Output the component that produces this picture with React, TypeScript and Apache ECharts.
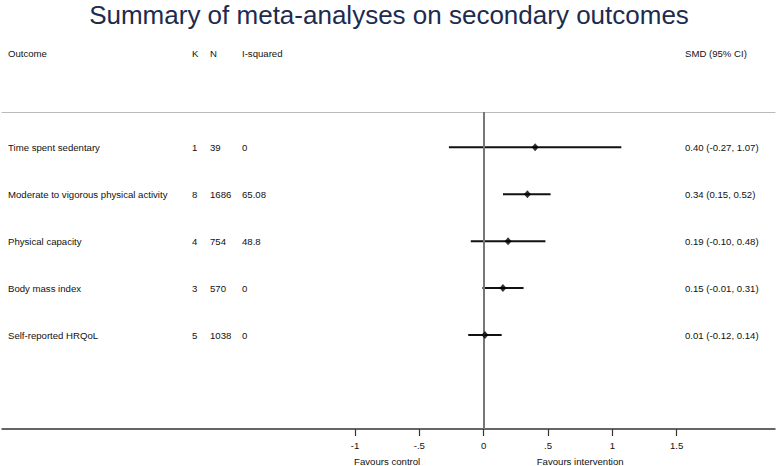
import React, { useEffect, useRef } from "react";
import * as echarts from "echarts";

const titleText = "Summary of meta-analyses on secondary outcomes";
const headers = ["Outcome", "K", "N", "I-squared", "SMD (95% CI)"];
const outcomes = [
  "Time spent sedentary",
  "Moderate to vigorous physical activity",
  "Physical capacity",
  "Body mass index",
  "Self-reported HRQoL",
];
const kValues = [1, 8, 4, 3, 5];
const nValues = [39, 1686, 754, 570, 1038];
const iSquared = [0, 65.08, 48.8, 0, 0];
const smd = [0.4, 0.34, 0.19, 0.15, 0.01];
const ciLow = [-0.27, 0.15, -0.1, -0.01, -0.12];
const ciHigh = [1.07, 0.52, 0.48, 0.31, 0.14];
const tickValues = [-1, -0.5, 0, 0.5, 1, 1.5];
const tickLabels = ["-1", "-.5", "0", ".5", "1", "1.5"];
const favourLabels = ["Favours control", "Favours intervention"];
const favourPositions = [-0.75, 0.75];

const FONT = "'Liberation Sans', Arial, Helvetica, sans-serif";
const FS = 9.6;
const colX = [8, 192, 210, 242, 685];

export default function App() {
  const ref = useRef<HTMLDivElement>(null);
  useEffect(() => {
    if (!ref.current) return;
    const chart = echarts.init(ref.current, null, { renderer: "svg" });
    const rows = outcomes.map((_, i) => i + 1);
    const fmt = (v: number) => v.toFixed(2);
    const option: any = {
      animation: false,
      backgroundColor: "#ffffff",
      grid: { left: 2, right: 3, top: 112, bottom: 37, containLabel: false },
      xAxis: [
        {
          type: "value",
          min: -3.743,
          max: 2.264,
          position: "bottom",
          axisLine: { show: true, lineStyle: { color: "#333333", width: 1.5 } },
          axisTick: {
            show: true,
            customValues: tickValues,
            length: 7,
            lineStyle: { color: "#333333", width: 1.2 },
          },
          axisLabel: {
            show: true,
            customValues: tickValues,
            margin: 11,
            fontSize: FS,
            fontFamily: FONT,
            color: "#111111",
            formatter: (v: number) => {
              const idx = tickValues.findIndex((t) => Math.abs(t - v) < 1e-9);
              return idx >= 0 ? tickLabels[idx] : "";
            },
          },
          splitLine: { show: false },
        },
        {
          type: "value",
          min: -3.743,
          max: 2.264,
          position: "top",
          axisLine: { show: true, lineStyle: { color: "#bbbbbb", width: 1.2 } },
          axisTick: { show: false },
          axisLabel: { show: false },
          splitLine: { show: false },
        },
      ],
      yAxis: {
        type: "value",
        inverse: true,
        min: 0.25,
        max: 7,
        show: false,
        splitLine: { show: false },
      },
      series: [
        {
          type: "custom",
          name: "CI",
          xAxisIndex: 0,
          data: rows.map((r, i) => [ciLow[i], ciHigh[i], r]),
          encode: { x: [0, 1], y: 2 },
          renderItem: (params: any, api: any) => {
            const p1 = api.coord([api.value(0), api.value(2)]);
            const p2 = api.coord([api.value(1), api.value(2)]);
            return {
              type: "line",
              shape: { x1: p1[0], y1: p1[1], x2: p2[0], y2: p2[1] },
              style: { stroke: "#111111", lineWidth: 2 },
            };
          },
          markLine: {
            silent: true,
            symbol: "none",
            label: { show: false },
            lineStyle: { color: "#777777", width: 2, type: "solid" },
            data: [{ xAxis: 0 }],
          },
          z: 3,
        },
        {
          type: "scatter",
          name: "SMD",
          xAxisIndex: 0,
          data: rows.map((r, i) => [smd[i], r]),
          symbol: "diamond",
          symbolSize: [7, 8],
          itemStyle: { color: "#000000" },
          z: 5,
        },
        {
          type: "custom",
          name: "table",
          xAxisIndex: 0,
          data: rows.map((r, i) => [0, r, i]),
          encode: { x: 0, y: 1 },
          renderItem: (params: any, api: any) => {
            const i = api.value(2);
            const y = api.coord([0, api.value(1)])[1];
            const texts = [
              outcomes[i],
              String(kValues[i]),
              String(nValues[i]),
              String(iSquared[i]),
              `${fmt(smd[i])} (${fmt(ciLow[i])}, ${fmt(ciHigh[i])})`,
            ];
            return {
              type: "group",
              children: texts.map((t, c) => ({
                type: "text",
                x: colX[c],
                y,
                style: {
                  text: t,
                  fill: "#111111",
                  fontSize: FS,
                  fontFamily: FONT,
                  align: "left",
                  verticalAlign: "middle",
                },
              })),
            };
          },
          z: 4,
        },
      ],
    };
    chart.setOption(option);

    const graphics: any[] = [
      {
        type: "text",
        left: "center",
        top: 2,
        style: {
          text: titleText,
          fill: "#1d2b4f",
          fontSize: 26,
          fontFamily: FONT,
        },
      },
      ...headers.map((h, c) => ({
        type: "text",
        x: colX[c],
        y: 53,
        style: {
          text: h,
          fill: "#111111",
          fontSize: FS,
          fontFamily: FONT,
          align: "left",
          verticalAlign: "middle",
        },
      })),
      ...favourLabels.map((t, k) => {
        const px = chart.convertToPixel({ xAxisIndex: 0 }, favourPositions[k]) as number;
        return {
          type: "text",
          x: px,
          y: 461,
          style: {
            text: t,
            fill: "#111111",
            fontSize: FS,
            fontFamily: FONT,
            align: "center",
            verticalAlign: "middle",
          },
        };
      }),
    ];
    chart.setOption({ graphic: graphics });

    return () => chart.dispose();
  }, []);
  return (
    <div
      ref={ref}
      style={{ position: "absolute", left: 0, top: 0, width: 778, height: 466 }}
    />
  );
}
